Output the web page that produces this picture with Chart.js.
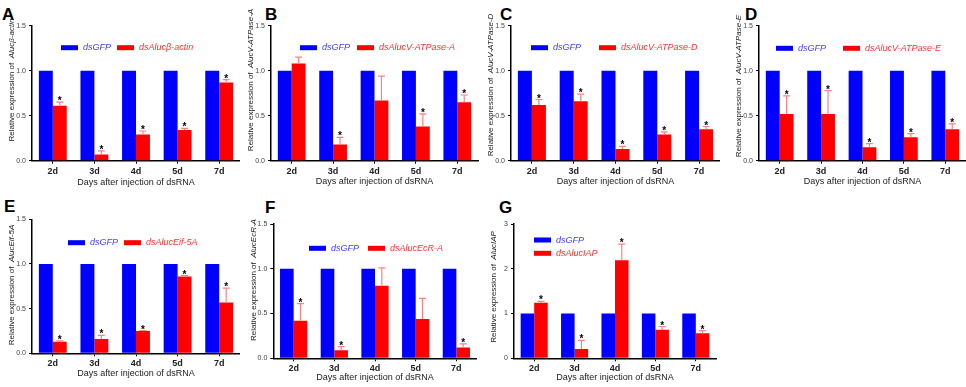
<!DOCTYPE html>
<html>
<head>
<meta charset="utf-8">
<script src="https://cdn.jsdelivr.net/npm/chart.js@4.4.0/dist/chart.umd.min.js"></script>
<style>
  body { margin: 0; background: #fff; width: 966px; height: 387px; position: relative; overflow: hidden; }
  canvas { position: absolute; }
  .tag { position: absolute; font: bold 17px 'Liberation Sans', Arial, sans-serif; line-height: 1; color: #000; }
</style>
</head>
<body>
<div class="tag" style="left:2px;top:6px">A</div>
<div class="tag" style="left:265px;top:6px">B</div>
<div class="tag" style="left:500px;top:6px">C</div>
<div class="tag" style="left:745px;top:6px">D</div>
<div class="tag" style="left:4px;top:198px">E</div>
<div class="tag" style="left:265px;top:199px">F</div>
<div class="tag" style="left:499px;top:199px">G</div>

<script>
// shared categories / control series
const days = ['2d', '3d', '4d', '5d', '7d'];
const controlLabel = 'dsGFP';
const controlValues = [1, 1, 1, 1, 1];
const genes = ['Alucβ-actin', 'AlucV-ATPase-A', 'AlucV-ATPase-D', 'AlucV-ATPase-E', 'AlucEif-5A', 'AlucEcR-A', 'AlucIAP'];

// dsRNA-treated means, SE (upper error only) and significance marks
const meanA = [0.61, 0.07, 0.29, 0.34, 0.87];
const errA  = [0.04, 0.04, 0.04, 0.02, 0.03];
const sigA  = [1, 1, 1, 1, 1];

const meanB = [1.08, 0.18, 0.67, 0.38, 0.65];
const errB  = [0.07, 0.08, 0.27, 0.14, 0.08];
const sigB  = [0, 1, 0, 1, 1];

const meanC = [0.62, 0.66, 0.13, 0.29, 0.35];
const errC  = [0.06, 0.08, 0.03, 0.03, 0.03];
const sigC  = [1, 1, 1, 1, 1];

const meanD = [0.52, 0.52, 0.15, 0.26, 0.35];
const errD  = [0.20, 0.26, 0.04, 0.04, 0.06];
const sigD  = [1, 1, 1, 1, 1];

const meanE = [0.13, 0.16, 0.25, 0.86, 0.57];
const errE  = [0.01, 0.04, 0.005, 0.01, 0.16];
const sigE  = [1, 1, 1, 1, 1];

const meanF = [0.42, 0.09, 0.81, 0.44, 0.12];
const errF  = [0.19, 0.04, 0.20, 0.23, 0.04];
const sigF  = [1, 1, 0, 0, 1];

const meanG = [1.24, 0.21, 2.19, 0.64, 0.56];
const errG  = [0.03, 0.19, 0.36, 0.07, 0.06];
const sigG  = [1, 1, 1, 1, 1];

const ARIAL = "'Liberation Sans', Arial, sans-serif";
const NARROW = "'Liberation Sans Narrow', 'Arial Narrow', 'Liberation Sans', Arial, sans-serif";
const BLUE = '#0000ff', RED = '#ff0000';

// box = canvas [x, y, w, h]; area = wanted chart area [left, top, right, bottom] (page px)
const panels = [
  { box: [0, 0, 240, 190],   area: [32, 25.7, 242, 160.7],  xTitleY: 183,   yTitleY: 80,  gene: genes[0], mean: meanA, err: errA, sig: sigA, max: 1.5, step: 0.5, dec: 1, legend: [[29, 22], [85, 22]] },
  { box: [240, 0, 240, 190], area: [271, 25.7, 478, 160.7], xTitleY: 181.7, yTitleY: 80,  gene: genes[1], mean: meanB, err: errB, sig: sigB, max: 1.5, step: 0.5, dec: 1, legend: [[29, 22], [86, 22]] },
  { box: [480, 0, 240, 190], area: [511, 25.7, 720, 160.7], xTitleY: 181.7, yTitleY: 85,  gene: genes[2], mean: meanC, err: errC, sig: sigC, max: 1.5, step: 0.5, dec: 1, legend: [[20, 22], [88, 22]] },
  { box: [720, 0, 246, 190], area: [759, 25.7, 966, 160.7], xTitleY: 181.7, yTitleY: 86,  gene: genes[3], mean: meanD, err: errD, sig: sigD, max: 1.5, step: 0.5, dec: 1, legend: [[17, 22.6], [84, 22.6]] },
  { box: [0, 190, 240, 197], area: [32, 219.3, 241, 353.3], xTitleY: 374,   yTitleY: 285, gene: genes[4], mean: meanE, err: errE, sig: sigE, max: 1.5, step: 0.5, dec: 1, legend: [[36, 23.4], [92, 23.4]] },
  { box: [240, 190, 240, 197], area: [273.3, 224, 476.7, 358.3], xTitleY: 377.7, yTitleY: 280, gene: genes[5], mean: meanF, err: errF, sig: sigF, max: 1.5, step: 0.5, dec: 1, legend: [[35.7, 24.3], [94.7, 24.3]] },
  { box: [480, 190, 240, 197], area: [514, 224, 716, 358.3], xTitleY: 377.7, yTitleY: 287, gene: genes[6], mean: meanG, err: errG, sig: sigG, max: 3, step: 1, dec: 0, legend: [[20, 16], [20, 29.3]] }
];

const Y_W = 26;

function makeOverlay(p) {
  return {
    id: 'overlay',
    afterDatasetsDraw(chart) {
      const ctx = chart.ctx, y = chart.scales.y;
      const meta = chart.getDatasetMeta(1);
      ctx.save();
      meta.data.forEach((bar, i) => {
        const top = y.getPixelForValue(p.mean[i] + p.err[i]);
        ctx.strokeStyle = '#ff8080';
        ctx.lineWidth = 1.2;
        ctx.beginPath();
        ctx.moveTo(bar.x, bar.y);
        ctx.lineTo(bar.x, top);
        ctx.moveTo(bar.x - 3.5, top);
        ctx.lineTo(bar.x + 3.5, top);
        ctx.stroke();
        if (p.sig[i]) {
          ctx.fillStyle = '#000';
          ctx.font = 'bold 10px ' + ARIAL;
          ctx.textAlign = 'center';
          ctx.textBaseline = 'alphabetic';
          ctx.fillText('*', bar.x, top + 2);
        }
      });
      ctx.restore();
    },
    afterDraw(chart) {
      const ctx = chart.ctx, ca = chart.chartArea;
      ctx.save();
      // legend inside the plot
      chart.data.datasets.forEach((ds, i) => {
        const lx = ca.left + p.legend[i][0], ly = ca.top + p.legend[i][1];
        ctx.fillStyle = ds.backgroundColor;
        ctx.fillRect(lx, ly - 2.5, 17, 5);
        ctx.fillStyle = i === 0 ? '#4040ff' : '#ff3030';
        ctx.font = 'italic 9px ' + NARROW;
        ctx.textAlign = 'left';
        ctx.textBaseline = 'middle';
        ctx.fillText(ds.label, lx + 22, ly);
      });
      // y title: plain lead-in, italic gene name
      const lead = 'Relative expression of  ';
      ctx.translate(ca.left - 20, p.yTitleY - p.box[1]);
      ctx.rotate(-Math.PI / 2);
      ctx.fillStyle = '#222';
      ctx.textBaseline = 'middle';
      ctx.textAlign = 'left';
      ctx.font = '8px ' + ARIAL;
      const w1 = ctx.measureText(lead).width;
      ctx.font = 'italic 8px ' + ARIAL;
      const w2 = ctx.measureText(p.gene).width;
      const sx = -(w1 + w2) / 2;
      ctx.font = '8px ' + ARIAL;
      ctx.fillText(lead, sx, 0);
      ctx.font = 'italic 8px ' + ARIAL;
      ctx.fillText(p.gene, sx + w1, 0);
      ctx.restore();
    }
  };
}

panels.forEach(p => {
  const [bx, by, bw, bh] = p.box;
  const [L, T, R, B] = p.area;
  const scaleBottom = p.xTitleY + 5.4;
  const xH = scaleBottom - B;

  const canvas = document.createElement('canvas');
  canvas.width = bw;
  canvas.height = bh;
  canvas.style.left = bx + 'px';
  canvas.style.top = by + 'px';
  canvas.style.width = bw + 'px';
  canvas.style.height = bh + 'px';
  document.body.appendChild(canvas);

  const axisGrid = { display: true, drawOnChartArea: false, offset: false, tickLength: 3, color: '#000', lineWidth: 1 };

  new Chart(canvas.getContext('2d'), {
    type: 'bar',
    data: {
      labels: days,
      datasets: [
        { label: controlLabel, data: controlValues, backgroundColor: BLUE, borderWidth: 0, categoryPercentage: 0.67, barPercentage: 1 },
        { label: 'ds' + p.gene, data: p.mean, backgroundColor: RED, borderWidth: 0, categoryPercentage: 0.67, barPercentage: 1 }
      ]
    },
    options: {
      responsive: false,
      animation: false,
      devicePixelRatio: 1,
      layout: { padding: { left: L - bx - Y_W, top: T - by, right: bx + bw - R, bottom: by + bh - scaleBottom } },
      plugins: { legend: { display: false }, tooltip: { enabled: false } },
      scales: {
        x: {
          grid: axisGrid,
          border: { color: '#000', width: 1.5 },
          ticks: { color: '#222', font: { family: NARROW, size: 9, weight: 'bold' }, padding: 2, maxRotation: 0, autoSkip: false },
          title: { display: true, text: 'Days after injection of dsRNA', color: '#222', font: { family: NARROW, size: 9 }, padding: 0 },
          afterFit: s => { s.height = xH; }
        },
        y: {
          min: 0,
          max: p.max,
          grid: axisGrid,
          border: { color: '#000', width: 1.5 },
          ticks: { stepSize: p.step, color: '#444', font: { family: ARIAL, size: 7 }, padding: 3, callback: v => Number(v).toFixed(p.dec) },
          afterFit: s => { s.width = Y_W; }
        }
      }
    },
    plugins: [makeOverlay(p)]
  });
});
</script>
</body>
</html>
